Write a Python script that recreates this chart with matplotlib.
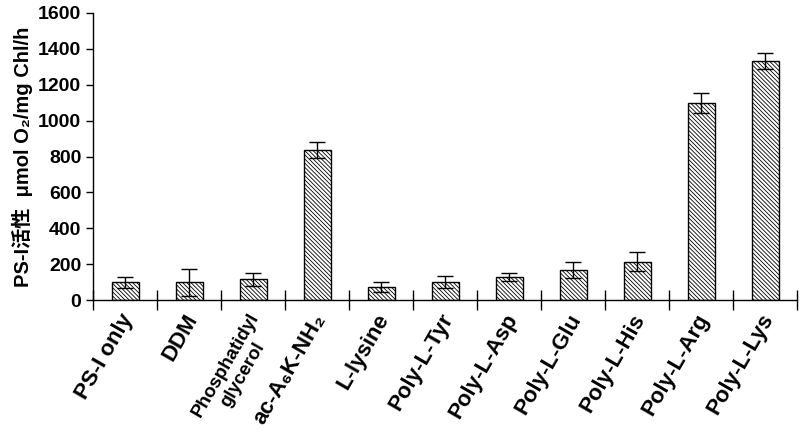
import matplotlib.pyplot as plt
import numpy as np

labels = ['PS-I only', 'DDM', 'Phosphatidyl\nglycerol', 'ac-A\u2086K-NH\u2082', 'L-lysine',
          'Poly-L-Tyr', 'Poly-L-Asp', 'Poly-L-Glu', 'Poly-L-His', 'Poly-L-Arg', 'Poly-L-Lys']
activity = [100, 100, 115, 835, 75, 100, 130, 170, 215, 1100, 1330]
errors = [30, 75, 35, 45, 27, 33, 22, 45, 55, 55, 45]

plt.rcParams['font.family'] = ['Liberation Sans', 'Noto Sans CJK SC', 'DejaVu Sans']
plt.rcParams['font.weight'] = 'bold'
plt.rcParams['hatch.linewidth'] = 0.6

fig = plt.figure(figsize=(8.03, 4.44), dpi=100)
ax = fig.add_axes([0.116, 0.324, 0.877, 0.647])

x = np.arange(len(labels))
ax.bar(x, activity, width=0.42, color='white', edgecolor='black', hatch='\\' * 8,
       linewidth=1, yerr=errors, capsize=6, error_kw={'elinewidth': 1, 'capthick': 1})

ax.set_xlim(-0.5, len(labels) - 0.5)
ax.set_ylim(0, 1600)
ax.set_yticks(range(0, 1601, 200))
ax.tick_params(axis='y', labelsize=14, width=1, length=5)
for t in ax.get_yticklabels():
    t.set_fontweight('bold')

# label anchors sit slightly left of the bar centres (invisible major ticks)
ax.set_xticks(x - 0.09)
ax.set_xticklabels(labels, rotation=60, ha='right', rotation_mode='anchor')
for t in ax.get_xticklabels():
    t.set_fontweight('bold')
    if '\n' in t.get_text():
        t.set_fontsize(13.5)
        t.set_multialignment('center')
    else:
        t.set_fontsize(16)
ax.set_xticks(np.arange(-0.5, len(labels)), minor=True)
ax.tick_params(axis='x', which='major', length=0, pad=7)
ax.tick_params(axis='x', which='minor', direction='inout', length=14, width=1)

ax.spines['top'].set_visible(False)
ax.spines['right'].set_visible(False)
ax.spines['left'].set_linewidth(1)
ax.spines['bottom'].set_linewidth(1)

ax.set_ylabel('PS-I活性  μmol O\u2082/mg Chl/h', fontsize=14.5, fontweight='bold', labelpad=4)

fig.savefig('out.png', dpi=100)
